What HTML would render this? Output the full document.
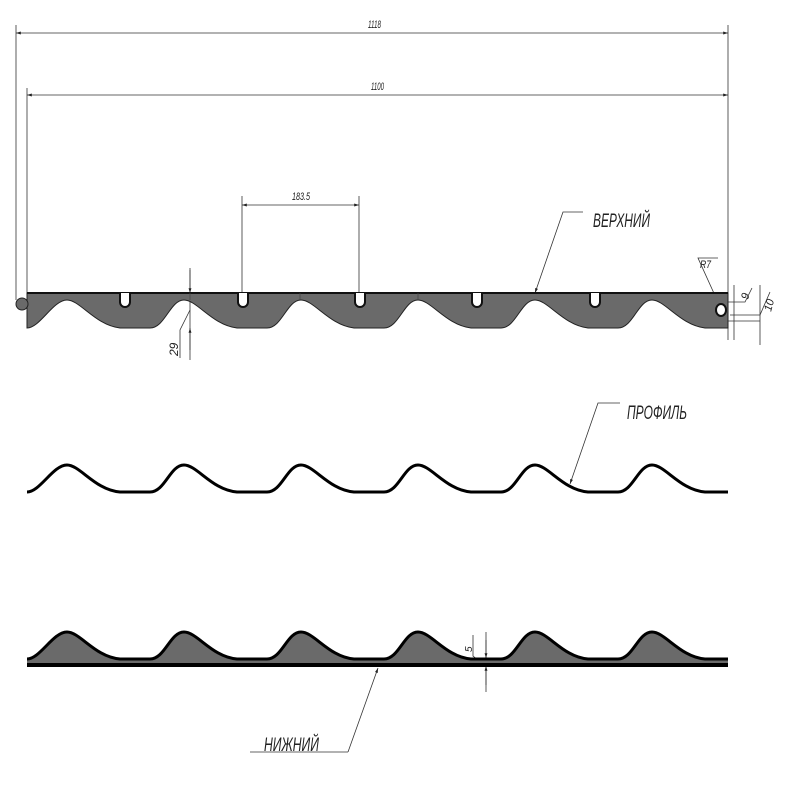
<!DOCTYPE html>
<html><head><meta charset="utf-8"><style>body{margin:0;background:#fff}svg{display:block}text{font-family:"Liberation Sans Narrow","Liberation Sans",sans-serif;font-style:italic;fill:#222}</style></head>
<body>
<svg width="790" height="790" viewBox="0 0 790 790" xmlns="http://www.w3.org/2000/svg">
<defs>
<marker id="a" viewBox="0 0 10 10" refX="10" refY="5" markerWidth="8" markerHeight="6" orient="auto-start-reverse"><path d="M0,2 L10,5 L0,8 Z" fill="#222"/></marker>
</defs>
<g stroke="#333" stroke-width="0.8" fill="none">
<line x1="16" y1="25" x2="16" y2="300"/><line x1="728" y1="25" x2="728" y2="340"/>
<line x1="16" y1="33" x2="728" y2="33" marker-start="url(#a)" marker-end="url(#a)"/>
<line x1="27" y1="88" x2="27" y2="293"/>
<line x1="27" y1="95" x2="728" y2="95" marker-start="url(#a)" marker-end="url(#a)"/>
<line x1="242" y1="196" x2="242" y2="293"/><line x1="359" y1="196" x2="359" y2="293"/>
<line x1="242" y1="205" x2="359" y2="205" marker-start="url(#a)" marker-end="url(#a)"/>
<line x1="190" y1="268" x2="190" y2="360"/>
<line x1="190" y1="270" x2="190" y2="293" marker-end="url(#a)"/>
<line x1="190" y1="350" x2="190" y2="328" marker-end="url(#a)"/>
<polyline points="180,358 180,330 190,310"/>
<polyline points="583,212 563,212 535,293" marker-end="url(#a)"/>
<polyline points="620,403 598,403 570,484" marker-end="url(#a)"/>
<polyline points="348,752 250,752" /><polyline points="348,752 378,668" marker-end="url(#a)"/>
<line x1="486" y1="632" x2="486" y2="692"/>
<line x1="486" y1="640" x2="486" y2="658" marker-end="url(#a)"/>
<line x1="486" y1="685" x2="486" y2="666" marker-end="url(#a)"/>
<polyline points="473,635 473,656 478,660"/>
<polyline points="718,258 698,258 717,300"/>
<line x1="734" y1="285" x2="734" y2="340"/>
<line x1="760" y1="285" x2="760" y2="345"/>
<polyline points="728,302 745,302 752,288"/>
<polyline points="730,315 760,315 770,292"/>
<line x1="728" y1="321" x2="760" y2="321"/>
</g>
<text x="368" y="28" font-size="11" textLength="13" lengthAdjust="spacingAndGlyphs">1118</text>
<text x="371" y="90" font-size="11" textLength="13" lengthAdjust="spacingAndGlyphs">1100</text>
<text x="292" y="200" font-size="11" textLength="18" lengthAdjust="spacingAndGlyphs">183.5</text>
<text x="593" y="227" font-size="19" textLength="57" lengthAdjust="spacingAndGlyphs">ВЕРХНИЙ</text>
<text x="627" y="419" font-size="19" textLength="60" lengthAdjust="spacingAndGlyphs">ПРОФИЛЬ</text>
<text x="264" y="751" font-size="19" textLength="55" lengthAdjust="spacingAndGlyphs">НИЖНИЙ</text>
<text x="700" y="268" font-size="11" textLength="11" lengthAdjust="spacingAndGlyphs">R7</text>
<text transform="translate(178,356) rotate(-90)" font-size="12">29</text>
<text transform="translate(472,652) rotate(-90)" font-size="10">5</text>
<text transform="translate(748,300) rotate(-75)" font-size="11">9</text>
<text transform="translate(771,312) rotate(-75)" font-size="11">10</text>
<path d="M27,328 C40,328 53,300 67,300 c13,0 28,25 53,28 l30,0 c15,0 20,-28 34,-28 c13,0 28,25 53,28 l30,0 c15,0 20,-28 34,-28 c13,0 28,25 53,28 l30,0 c15,0 20,-28 34,-28 c13,0 28,25 53,28 l30,0 c15,0 20,-28 34,-28 c13,0 28,25 53,28 l30,0 c15,0 20,-28 34,-28 c13,0 28,25 53,28 L728,328 L728,293 L27,293 Z" fill="#6a6a6a" stroke="#222" stroke-width="1"/>
<line x1="27" y1="293" x2="728" y2="293" stroke="#111" stroke-width="2"/>
<g stroke="#444" stroke-width="0.7"><line x1="190" y1="293" x2="190" y2="300"/><line x1="300" y1="293" x2="300" y2="300"/><line x1="418" y1="293" x2="418" y2="300"/></g>
<g fill="#fff" stroke="#111" stroke-width="2">
<path d="M120,293 V302 a5,5 0 0 0 10,0 V293"/>
<path d="M238,293 V302 a5,5 0 0 0 10,0 V293"/>
<path d="M355,293 V302 a5,5 0 0 0 10,0 V293"/>
<path d="M472,293 V302 a5,5 0 0 0 10,0 V293"/>
<path d="M590,293 V302 a5,5 0 0 0 10,0 V293"/>
</g>
<circle cx="22" cy="304" r="6" fill="#6a6a6a" stroke="#222"/>
<ellipse cx="721" cy="310" rx="5" ry="6" fill="#fff" stroke="#111" stroke-width="2"/>
<path d="M27,492 C40,492 53,465 67,465 c13,0 28,25 53,27 l30,0 c15,0 20,-27 34,-27 c13,0 28,25 53,27 l30,0 c15,0 20,-27 34,-27 c13,0 28,25 53,27 l30,0 c15,0 20,-27 34,-27 c13,0 28,25 53,27 l30,0 c15,0 20,-27 34,-27 c13,0 28,25 53,27 l30,0 c15,0 20,-27 34,-27 c13,0 28,25 53,27 L728,492" fill="none" stroke="#000" stroke-width="3"/>
<path d="M27,665 L27,659 C40,659 53,632 67,632 c13,0 28,25 53,27 l30,0 c15,0 20,-27 34,-27 c13,0 28,25 53,27 l30,0 c15,0 20,-27 34,-27 c13,0 28,25 53,27 l30,0 c15,0 20,-27 34,-27 c13,0 28,25 53,27 l30,0 c15,0 20,-27 34,-27 c13,0 28,25 53,27 l30,0 c15,0 20,-27 34,-27 c13,0 28,25 53,27 L728,659 L728,665 Z" fill="#6a6a6a" stroke="none"/>
<path d="M27,659 C40,659 53,632 67,632 c13,0 28,25 53,27 l30,0 c15,0 20,-27 34,-27 c13,0 28,25 53,27 l30,0 c15,0 20,-27 34,-27 c13,0 28,25 53,27 l30,0 c15,0 20,-27 34,-27 c13,0 28,25 53,27 l30,0 c15,0 20,-27 34,-27 c13,0 28,25 53,27 l30,0 c15,0 20,-27 34,-27 c13,0 28,25 53,27 L728,659" fill="none" stroke="#000" stroke-width="3"/>
<rect x="27" y="663" width="701" height="4" fill="#000"/>
</svg>
</body></html>
